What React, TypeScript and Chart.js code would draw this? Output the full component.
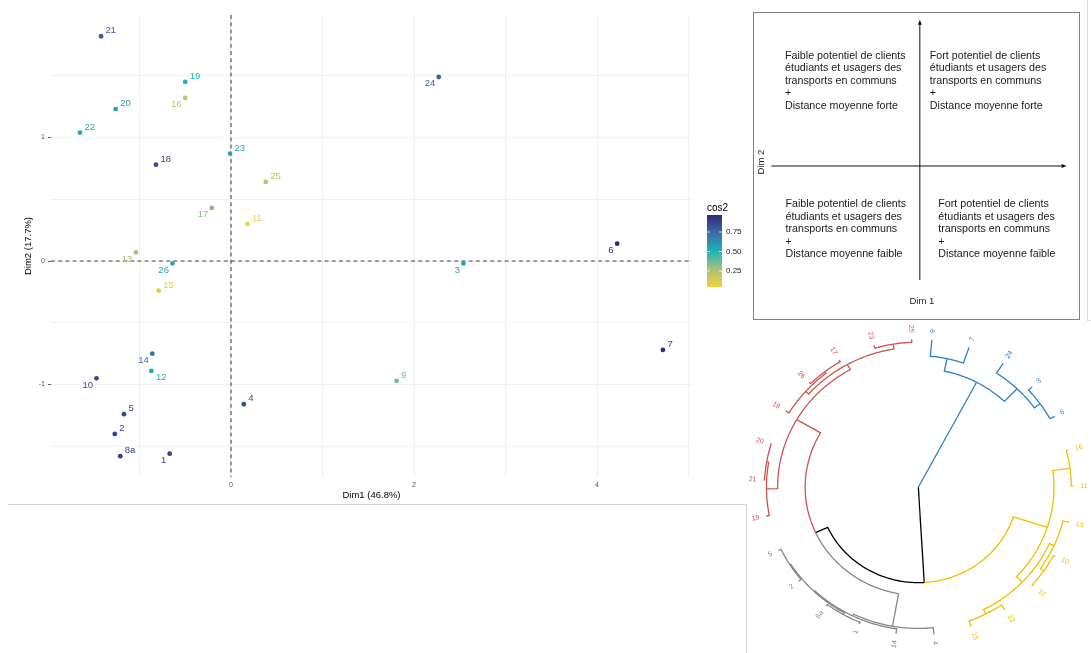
import React, { useEffect, useRef } from "react";
import { Chart, registerables } from "chart.js";

Chart.register(...registerables);

const FONT = "'Liberation Sans', Arial, Helvetica, sans-serif";

// ---------------- PCA individuals map ----------------
const indLabels = ["21", "19", "16", "20", "22", "23", "18", "25", "17", "11", "13", "26", "15", "14", "12", "10", "4", "5", "2", "8a", "1", "24", "6", "3", "9", "7"];
const dim1 = [-1.42, -0.5, -0.5, -1.26, -1.65, -0.01, -0.82, 0.38, -0.21, 0.18, -1.04, -0.64, -0.79, -0.86, -0.87, -1.47, 0.14, -1.17, -1.27, -1.21, -0.67, 2.27, 4.22, 2.54, 1.81, 4.72];
const dim2 = [1.82, 1.45, 1.32, 1.23, 1.04, 0.87, 0.78, 0.64, 0.43, 0.3, 0.07, -0.02, -0.24, -0.75, -0.89, -0.95, -1.16, -1.24, -1.4, -1.58, -1.56, 1.49, 0.14, -0.02, -0.97, -0.72];
const cos2 = [0.78, 0.5, 0.2, 0.57, 0.54, 0.55, 0.85, 0.22, 0.32, 0.045, 0.25, 0.53, 0.1, 0.72, 0.52, 0.85, 0.85, 0.87, 0.88, 0.9, 0.89, 0.78, 0.968, 0.55, 0.36, 0.95];
const labelSide = ["tr", "tr", "bl", "tr", "tr", "tr", "tr", "tr", "bl", "tr", "bl", "bl", "tr", "bl", "br", "bl", "tr", "tr", "tr", "tr", "bl", "bl", "bl", "bl", "tr", "tr"];

const xGridValues = [-1, 0, 1, 2, 3, 4, 5];
const xLabelValues = [0, 2, 4];
const yGridValues = [-1.5, -1, -0.5, 0, 0.5, 1, 1.5];
const yLabelValues = [-1, 0, 1];
const legendValues = [0.25, 0.5, 0.75];
const gradientPositions = [0, 0.25, 0.5, 0.75, 1];
const gradientColors = ["#F3D23A", "#A8C077", "#1FB2B9", "#3C6CA8", "#2D2A7E"];

// ---------------- Quadrant reading guide ----------------
const quadTopLeft = ["Faible potentiel de clients", "étudiants et usagers des", "transports en communs", "+", "Distance moyenne forte"];
const quadTopRight = ["Fort potentiel de clients", "étudiants et usagers des", "transports en communs", "+", "Distance moyenne forte"];
const quadBottomLeft = ["Faible potentiel de clients", "étudiants et usagers des", "transports en communs", "+", "Distance moyenne faible"];
const quadBottomRight = ["Fort potentiel de clients", "étudiants et usagers des", "transports en communs", "+", "Distance moyenne faible"];
const quadArrowX = [-0.89, 0.88];
const quadArrowY = [-0.74, 0.95];

// ---------------- Circular dendrogram ----------------
const dendLeaves = ["9", "7", "24", "3", "6", "16", "11", "13", "10", "12", "22", "15", "4", "14", "1", "8a", "2", "5", "19", "21", "20", "18", "26", "17", "23", "25"];
const dendLeafCluster = [1, 1, 1, 1, 1, 2, 2, 2, 2, 2, 2, 2, 3, 3, 3, 3, 3, 3, 4, 4, 4, 4, 4, 4, 4, 4];
const dendClusterColors = ["#000000", "#2A7FCA", "#EFC000", "#868686", "#CD534C"];
// [left, right, height] ; merged nodes are referred to as n1, n2, ...
const dendMerges: [string, string, number][] = [
  ["3", "6", 0.5],
  ["24", "n1", 1.2],
  ["9", "7", 1.7],
  ["n3", "n2", 3.0],
  ["16", "11", 0.2],
  ["10", "12", 0.2],
  ["13", "n6", 0.6],
  ["22", "15", 0.6],
  ["n7", "n8", 1.1],
  ["n5", "n9", 1.9],
  ["1", "8a", 0.2],
  ["2", "5", 0.3],
  ["n11", "n12", 0.4],
  ["14", "n13", 0.5],
  ["4", "n14", 0.7],
  ["21", "20", 0.1],
  ["19", "n16", 0.3],
  ["26", "17", 0.2],
  ["18", "n18", 0.4],
  ["23", "25", 0.3],
  ["n19", "n20", 0.8],
  ["n17", "n21", 1.4],
  ["n15", "n22", 4.1],
  ["n10", "n23", 5.4],
  ["n4", "n24", 15.2],
];

function hexToRgb(h: string) {
  const n = parseInt(h.slice(1), 16);
  return [(n >> 16) & 255, (n >> 8) & 255, n & 255];
}

function gradientColor(t: number) {
  const tt = Math.max(0, Math.min(1, t));
  let k = 0;
  while (k < gradientPositions.length - 2 && tt > gradientPositions[k + 1]) k++;
  const p0 = gradientPositions[k], p1 = gradientPositions[k + 1];
  const f = (tt - p0) / (p1 - p0);
  const c0 = hexToRgb(gradientColors[k]), c1 = hexToRgb(gradientColors[k + 1]);
  const c = c0.map((v, i) => Math.round(v + (c1[i] - v) * f));
  return `rgb(${c[0]},${c[1]},${c[2]})`;
}

function scatterConfig(): any {
  const cMin = Math.min(...cos2);
  const cMax = Math.max(...cos2);
  const norm = (v: number) => (v - cMin) / (cMax - cMin);
  const colors = cos2.map((v) => gradientColor(norm(v)));

  const refLines = {
    id: "refLines",
    beforeDatasetsDraw(chart: any) {
      const { ctx, chartArea: a, scales } = chart;
      const x0 = scales.x.getPixelForValue(0);
      const y0 = scales.y.getPixelForValue(0);
      ctx.save();
      ctx.strokeStyle = "#444";
      ctx.lineWidth = 1.1;
      ctx.setLineDash([4, 3.2]);
      ctx.beginPath();
      ctx.moveTo(x0, a.top);
      ctx.lineTo(x0, a.bottom);
      ctx.stroke();
      ctx.beginPath();
      ctx.moveTo(a.left, y0);
      ctx.lineTo(a.right, y0);
      ctx.stroke();
      ctx.restore();
    },
  };

  const pointText = {
    id: "pointText",
    afterDatasetsDraw(chart: any) {
      const { ctx, scales } = chart;
      ctx.save();
      ctx.font = `9.5px ${FONT}`;
      ctx.textBaseline = "middle";
      indLabels.forEach((lab, i) => {
        const px = scales.x.getPixelForValue(dim1[i]);
        const py = scales.y.getPixelForValue(dim2[i]);
        ctx.fillStyle = colors[i];
        const side = labelSide[i];
        if (side === "tr") {
          ctx.textAlign = "left";
          ctx.fillText(lab, px + 4.5, py - 5.5);
        } else if (side === "bl") {
          ctx.textAlign = "right";
          ctx.fillText(lab, px - 3.5, py + 6.8);
        } else {
          ctx.textAlign = "left";
          ctx.fillText(lab, px + 4.5, py + 6.8);
        }
      });
      ctx.restore();
    },
  };

  const colorBar = {
    id: "colorBar",
    afterDraw(chart: any) {
      const { ctx, chartArea: a } = chart;
      const barW = 15;
      const barH = 72;
      const left = a.right + 15;
      const top = (a.top + a.bottom) / 2 - 31;
      const yOf = (v: number) => top + ((cMax - v) / (cMax - cMin)) * barH;
      ctx.save();
      const g = ctx.createLinearGradient(0, top + barH, 0, top);
      gradientPositions.forEach((p, i) => g.addColorStop(p, gradientColors[i]));
      ctx.fillStyle = g;
      ctx.fillRect(left, top, barW, barH);
      ctx.strokeStyle = "rgba(255,255,255,0.9)";
      ctx.lineWidth = 0.8;
      legendValues.forEach((v) => {
        const yy = yOf(v);
        ctx.beginPath();
        ctx.moveTo(left, yy);
        ctx.lineTo(left + 3, yy);
        ctx.moveTo(left + barW - 3, yy);
        ctx.lineTo(left + barW, yy);
        ctx.stroke();
      });
      ctx.fillStyle = "#222";
      ctx.font = `8px ${FONT}`;
      ctx.textAlign = "left";
      ctx.textBaseline = "middle";
      legendValues.forEach((v) => ctx.fillText(v.toFixed(2), left + barW + 4, yOf(v)));
      ctx.fillStyle = "#000";
      ctx.font = `10px ${FONT}`;
      ctx.textBaseline = "alphabetic";
      ctx.fillText("cos2", left, top - 4);
      ctx.restore();
    },
  };

  return {
    type: "scatter",
    data: {
      datasets: [
        {
          data: dim1.map((x, i) => ({ x, y: dim2[i] })),
          pointBackgroundColor: colors,
          pointBorderWidth: 0,
          pointRadius: 2.4,
          pointHoverRadius: 2.4,
        },
      ],
    },
    options: {
      responsive: false,
      animation: false,
      events: [],
      layout: { padding: { left: 0, right: 53, top: 15, bottom: 0 } },
      plugins: { legend: { display: false }, tooltip: { enabled: false } },
      scales: {
        x: {
          type: "linear",
          min: -1.967,
          max: 5.038,
          afterBuildTicks: (s: any) => {
            s.ticks = xGridValues.map((v) => ({ value: v }));
          },
          afterFit: (s: any) => {
            s.height = 26;
          },
          grid: { color: "#ebebeb", lineWidth: 0.7, drawTicks: false },
          border: { display: false },
          ticks: {
            autoSkip: false,
            maxRotation: 0,
            padding: 4,
            color: "#4d4d4d",
            font: { family: FONT, size: 7 },
            callback: (v: number) => (xLabelValues.includes(v) ? String(v) : ""),
          },
          title: {
            display: true,
            text: "Dim1 (46.8%)",
            color: "#000",
            font: { family: FONT, size: 9.5 },
            padding: { top: 0, bottom: 1.5 },
          },
        },
        y: {
          type: "linear",
          min: -1.749,
          max: 1.992,
          afterBuildTicks: (s: any) => {
            s.ticks = yGridValues.map((v) => ({ value: v }));
          },
          afterFit: (s: any) => {
            s.width = 51;
          },
          grid: {
            color: "#ebebeb",
            lineWidth: 0.7,
            drawTicks: true,
            tickLength: 3,
            tickWidth: 0.8,
            tickColor: (c: any) => (c.tick && yLabelValues.includes(c.tick.value) ? "#333" : "rgba(0,0,0,0)"),
          },
          border: { display: false },
          ticks: {
            autoSkip: false,
            padding: 3,
            color: "#4d4d4d",
            font: { family: FONT, size: 7 },
            callback: (v: number) => (yLabelValues.includes(v) ? String(v) : ""),
          },
          title: {
            display: true,
            text: "Dim2 (17.7%)",
            color: "#000",
            font: { family: FONT, size: 9.5 },
            padding: { top: 23, bottom: 0 },
          },
        },
      },
    },
    plugins: [refLines, pointText, colorBar],
  };
}

function quadConfig(): any {
  const guide = {
    id: "quadGuide",
    afterDraw(chart: any) {
      const { ctx, chartArea: a, scales } = chart;
      const { x, y } = scales;
      const ax = x.getPixelForValue(0);
      const ay = y.getPixelForValue(0);
      ctx.save();
      ctx.strokeStyle = "#808080";
      ctx.lineWidth = 1;
      ctx.strokeRect(a.left + 0.5, a.top + 0.5, a.width - 1, a.height - 1);

      ctx.strokeStyle = "#111";
      ctx.fillStyle = "#111";
      const vy1 = y.getPixelForValue(quadArrowY[0]);
      const vy2 = y.getPixelForValue(quadArrowY[1]);
      ctx.beginPath();
      ctx.moveTo(ax, vy1);
      ctx.lineTo(ax, vy2 + 3);
      ctx.stroke();
      ctx.beginPath();
      ctx.moveTo(ax, vy2);
      ctx.lineTo(ax - 2, vy2 + 5);
      ctx.lineTo(ax + 2, vy2 + 5);
      ctx.closePath();
      ctx.fill();
      const hx1 = x.getPixelForValue(quadArrowX[0]);
      const hx2 = x.getPixelForValue(quadArrowX[1]);
      ctx.beginPath();
      ctx.moveTo(hx1, ay);
      ctx.lineTo(hx2 - 3, ay);
      ctx.stroke();
      ctx.beginPath();
      ctx.moveTo(hx2, ay);
      ctx.lineTo(hx2 - 5, ay - 2);
      ctx.lineTo(hx2 - 5, ay + 2);
      ctx.closePath();
      ctx.fill();

      ctx.fillStyle = "#1a1a1a";
      ctx.font = `10.7px ${FONT}`;
      ctx.textAlign = "left";
      ctx.textBaseline = "middle";
      const block = (lines: string[], bx: number, by: number) =>
        lines.forEach((t, i) => ctx.fillText(t, bx, by + i * 12.5));
      block(quadTopLeft, a.left + 32, ay - 110);
      block(quadTopRight, ax + 10, ay - 110);
      block(quadBottomLeft, a.left + 32.5, ay + 38.5);
      block(quadBottomRight, ax + 18.5, ay + 38.5);

      ctx.font = `9.5px ${FONT}`;
      ctx.textAlign = "center";
      ctx.fillText("Dim 1", ax + 2, a.bottom - 18.5);
      ctx.translate(a.left + 8.7, ay - 4);
      ctx.rotate(-Math.PI / 2);
      ctx.fillText("Dim 2", 0, 0);
      ctx.restore();
    },
  };
  return {
    type: "scatter",
    data: { datasets: [] },
    options: {
      responsive: false,
      animation: false,
      events: [],
      layout: { padding: { left: 8, top: 12, right: 11, bottom: 1 } },
      plugins: { legend: { display: false }, tooltip: { enabled: false } },
      scales: {
        x: { type: "linear", min: -1, max: 0.96, display: false },
        y: { type: "linear", min: -1, max: 1, display: false },
      },
    },
    plugins: [guide],
  };
}

function buildTree() {
  const nodes: Record<string, any> = {};
  const n = dendLeaves.length;
  const startDeg = 5;
  const spanDeg = 352.5;
  dendLeaves.forEach((lab, i) => {
    nodes[lab] = { angle: startDeg + (spanDeg * i) / (n - 1), h: 0, cluster: dendLeafCluster[i], label: lab };
  });
  let last: any = null;
  dendMerges.forEach(([l, r, h], k) => {
    const A = nodes[l];
    const B = nodes[r];
    const node = { angle: (A.angle + B.angle) / 2, h, cluster: A.cluster === B.cluster ? A.cluster : 0, children: [A, B] };
    nodes["n" + (k + 1)] = node;
    last = node;
  });
  return { root: last, nodes };
}

function dendConfig(): any {
  const dend = {
    id: "circularDend",
    afterDraw(chart: any) {
      const { ctx, scales } = chart;
      const { x, y } = scales;
      const { root, nodes } = buildTree();
      const hMax = root.h;
      const rad = (h: number) => 1 - h / hMax;
      const P = (r: number, deg: number) => {
        const t = (deg * Math.PI) / 180;
        return [x.getPixelForValue(r * Math.sin(t)), y.getPixelForValue(r * Math.cos(t))];
      };
      ctx.save();
      ctx.lineWidth = 1.3;
      ctx.lineCap = "butt";
      ctx.lineJoin = "miter";
      const drawNode = (node: any) => {
        if (!node.children) return;
        const rp = rad(node.h);
        node.children.forEach((ch: any) => {
          ctx.strokeStyle = dendClusterColors[ch.cluster];
          ctx.beginPath();
          if (rp > 0) {
            const a0 = node.angle;
            const a1 = ch.angle;
            const steps = Math.max(2, Math.ceil(Math.abs(a1 - a0)));
            for (let s = 0; s <= steps; s++) {
              const [px, py] = P(rp, a0 + ((a1 - a0) * s) / steps);
              if (s === 0) ctx.moveTo(px, py);
              else ctx.lineTo(px, py);
            }
          } else {
            const [px, py] = P(0, ch.angle);
            ctx.moveTo(px, py);
          }
          const [qx, qy] = P(rad(ch.h), ch.angle);
          ctx.lineTo(qx, qy);
          ctx.stroke();
          drawNode(ch);
        });
      };
      drawNode(root);

      ctx.font = `7px ${FONT}`;
      ctx.textBaseline = "middle";
      dendLeaves.forEach((lab) => {
        const leaf = nodes[lab];
        const [ax, ay] = P(1.045, leaf.angle);
        const [bx, by] = P(1.2, leaf.angle);
        let rot = Math.atan2(by - ay, bx - ax);
        ctx.save();
        ctx.translate(ax, ay);
        ctx.fillStyle = dendClusterColors[leaf.cluster];
        if (leaf.angle < 180) {
          ctx.textAlign = "left";
        } else {
          rot += Math.PI;
          ctx.textAlign = "right";
        }
        ctx.rotate(rot);
        ctx.fillText(lab, 0, 0);
        ctx.restore();
      });
      ctx.restore();
    },
  };
  return {
    type: "scatter",
    data: { datasets: [] },
    options: {
      responsive: false,
      animation: false,
      events: [],
      layout: { padding: 0 },
      plugins: { legend: { display: false }, tooltip: { enabled: false } },
      scales: {
        x: { type: "linear", min: -1.112, max: 1.114, display: false },
        y: { type: "linear", min: -1.12, max: 1.13, display: false },
      },
    },
    plugins: [dend],
  };
}

export default function App() {
  const scatterRef = useRef<HTMLCanvasElement>(null);
  const quadRef = useRef<HTMLCanvasElement>(null);
  const dendRef = useRef<HTMLCanvasElement>(null);

  useEffect(() => {
    const charts: Chart[] = [];
    if (scatterRef.current) charts.push(new Chart(scatterRef.current, scatterConfig()));
    if (quadRef.current) charts.push(new Chart(quadRef.current, quadConfig()));
    if (dendRef.current) charts.push(new Chart(dendRef.current, dendConfig()));
    return () => charts.forEach((c) => c.destroy());
  }, []);

  return (
    <div style={{ position: "fixed", left: 0, top: 0, width: 1091, height: 653, background: "#fff", overflow: "hidden" }}>
      <canvas ref={scatterRef} width={745} height={503} style={{ position: "absolute", left: 0, top: 0 }} />
      <canvas ref={quadRef} width={346} height={321} style={{ position: "absolute", left: 745, top: 0 }} />
      <canvas ref={dendRef} width={345} height={333} style={{ position: "absolute", left: 746, top: 320 }} />
      <div style={{ position: "absolute", left: 8, top: 504, width: 739, height: 1, background: "#d4d4d4" }} />
      <div style={{ position: "absolute", left: 746, top: 504, width: 1, height: 149, background: "#d4d4d4" }} />
      <div style={{ position: "absolute", left: 1087, top: 0, width: 1, height: 320, background: "#dddddd" }} />
      <div style={{ position: "absolute", left: 1087, top: 320, width: 4, height: 1, background: "#dddddd" }} />
    </div>
  );
}
